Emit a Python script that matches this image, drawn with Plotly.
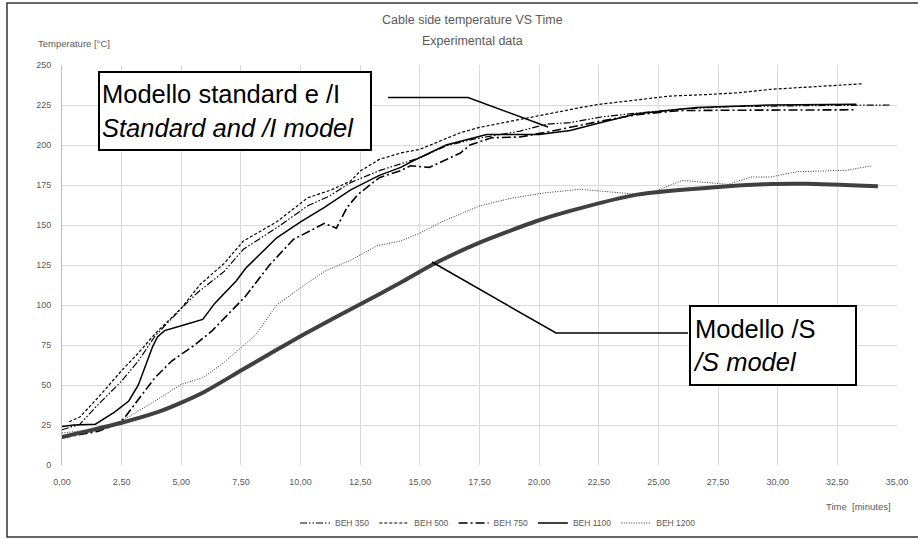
import plotly.graph_objects as go

# ---------------- data ----------------
t_350 = [0.0, 0.75, 1.4, 2.5, 3.2, 3.9, 5.1, 5.7, 6.8, 7.6, 9.0, 10.3, 11.2, 12.1, 13.3, 14.2, 15.0, 16.1, 17.2, 19.2,
         20.3, 21.3, 22.6, 24.1, 26.0, 28.0, 30.0, 32.0, 34.7]
T_350 = [22, 25.5, 36, 52.5, 65, 80.6, 99.4, 108, 121, 134.8, 148.3, 162, 168, 176.5, 184, 188, 192, 199.4, 203.5, 208.7,
         213, 214, 217.5, 220, 222.5, 224, 224.5, 224.7, 225]

t_500 = [0.3, 0.75, 1.5, 2.5, 3.2, 3.9, 5.0, 5.8, 6.8, 7.6, 9.0, 10.3, 11.3, 12.1, 12.5, 13.3, 14.2, 15.0, 16.7, 17.5,
         19.2, 20.5, 21.7, 22.5, 24.0, 25.5, 27.0, 28.4, 29.7, 31.5, 33.6]
T_500 = [27, 30, 42, 59, 70, 82, 98, 113, 126, 140, 152, 167, 172, 177.5, 183.7, 191, 195, 197.3, 207.7, 211,
         216, 220, 223.3, 225.4, 228, 230.6, 231.5, 232.7, 234.8, 236.5, 238.3]

t_750 = [0.0, 0.7, 1.5, 2.2, 2.6, 3.2, 3.9, 4.6, 5.6, 6.3, 7.0, 7.7, 8.7, 9.7, 11.0, 11.5, 11.95, 12.4, 13.3, 14.2,
         14.6, 15.4, 16.7, 17.1, 18.0, 19.2, 20.3, 21.3, 22.6, 24.1, 25.9, 27.5, 29.7, 31.5, 33.2]
T_750 = [17, 19, 21, 25, 29, 41, 54.6, 65, 75.4, 84, 95, 105.6, 125, 141, 151, 148, 161, 169, 179.6, 184,
         187, 186, 195, 200, 204.5, 205, 208, 211, 215, 219, 221.5, 221.7, 221.7, 222, 222]

t_1100 = [0.0, 0.5, 1.4, 2.2, 2.8, 3.2, 3.5, 3.8, 4.0, 4.3, 5.0, 5.9, 6.4, 7.3, 7.7, 8.3, 9.0, 10.0, 11.0, 12.1,
          13.3, 14.2, 14.7, 16.1, 17.8, 20.0, 21.3, 22.6, 24.1, 26.6, 29.7, 33.3]
T_1100 = [24, 25, 25.5, 33, 40, 50, 62, 74, 80, 84, 87, 91, 101, 115, 123, 132, 142, 152, 161, 172,
          181, 186, 190, 200, 206.5, 206.5, 209, 214, 219.5, 223.5, 225, 225.5]

t_1200 = [0.0, 1.4, 2.5, 3.9, 5.0, 5.9, 6.7, 7.5, 8.1, 9.0, 10.0, 11.0, 12.1, 13.2, 14.2, 15.0, 16.0, 17.5, 18.9, 20.3,
          21.7, 22.5, 24.1, 24.9, 26.0, 27.9, 28.9, 29.7, 30.8, 32.9, 33.9]
T_1200 = [20, 22.3, 27.5, 40, 50.4, 54.6, 63, 73.3, 81, 100, 110.8, 121, 128, 137, 140, 145, 152.5, 161.9, 167, 170.2,
          172.3, 171.3, 169.2, 171.3, 177.9, 175.4, 180, 180, 183.3, 184.2, 186.9]

t_model_S = [0.0, 1.0, 2.5, 4.0, 5.0, 6.0, 7.5, 9.0, 10.3, 12.5, 14.2, 15.5, 17.5, 19.9, 21.3, 24.1, 27.5, 29.7, 31.2, 34.2]
T_model_S = [17.5, 21, 26.4, 33, 39, 46, 59, 72, 83, 100.5, 114, 125, 139, 152.5, 158.8, 169, 173.8, 175.6, 175.8, 174.2]

x_ticks = [0, 2.5, 5, 7.5, 10, 12.5, 15, 17.5, 20, 22.5, 25, 27.5, 30, 32.5, 35]
x_ticktext = ["0,00", "2,50", "5,00", "7,50", "10,00", "12,50", "15,00", "17,50", "20,00",
              "22,50", "25,00", "27,50", "30,00", "32,50", "35,00"]
y_ticks = [0, 25, 50, 75, 100, 125, 150, 175, 200, 225, 250]

# ---------------- layout geometry ----------------
W, H = 918, 539
ML, MR, MT, MB = 62, 21, 65, 74
PW, PH = W - ML - MR, H - MT - MB


def px(x):
    return (x - ML) / PW


def py(y):
    return (H - MB - y) / PH


FONT = "Liberation Sans Narrow, Arial Narrow, Liberation Sans, Arial, sans-serif"
GRAY = "#595959"

fig = go.Figure()

fig.add_trace(go.Scatter(x=t_350, y=T_350, name="BEH 350", mode="lines",
                         line=dict(color="black", width=1.2, dash="7px,2px,1.5px,2px,1.5px,2px")))
fig.add_trace(go.Scatter(x=t_500, y=T_500, name="BEH 500", mode="lines",
                         line=dict(color="black", width=1.2, dash="3px,2px")))
fig.add_trace(go.Scatter(x=t_750, y=T_750, name="BEH 750", mode="lines",
                         line=dict(color="black", width=1.6, dash="9px,3px,2px,3px")))
fig.add_trace(go.Scatter(x=t_1100, y=T_1100, name="BEH 1100", mode="lines",
                         line=dict(color="black", width=1.5)))
fig.add_trace(go.Scatter(x=t_1200, y=T_1200, name="BEH 1200", mode="lines",
                         line=dict(color="#333333", width=1, dash="1px,1.5px")))
fig.add_trace(go.Scatter(x=t_model_S, y=T_model_S, name="Modello /S", mode="lines", showlegend=False,
                         line=dict(color="#404040", width=4, shape="spline", smoothing=0.6)))

fig.update_layout(
    width=W, height=H,
    margin=dict(l=ML, r=MR, t=MT, b=MB, autoexpand=False),
    paper_bgcolor="white", plot_bgcolor="white",
    font=dict(family=FONT, size=9, color=GRAY),
    showlegend=True,
    legend=dict(orientation="h", x=px(498), xanchor="center", y=py(523), yanchor="middle",
                font=dict(size=8.5, color=GRAY), itemwidth=30, bgcolor="rgba(0,0,0,0)"),
    xaxis=dict(range=[0, 35], tickvals=x_ticks, ticktext=x_ticktext, showgrid=True,
               gridcolor="#d9d9d9", gridwidth=1, zeroline=False, showline=False,
               ticks="", ticklabelstandoff=10, tickfont=dict(size=9, color=GRAY)),
    yaxis=dict(range=[0, 250], tickvals=y_ticks, showgrid=True, gridcolor="#d9d9d9", gridwidth=1,
               zeroline=False, showline=True, linecolor="#bfbfbf", linewidth=1,
               ticks="", ticklabelstandoff=8, tickfont=dict(size=9, color=GRAY)),
)

annos = [
    dict(text="Cable side temperature VS Time", x=px(472), y=py(20), font=dict(size=12.5, color=GRAY)),
    dict(text="Experimental data", x=px(472), y=py(41), font=dict(size=12.5, color=GRAY)),
    dict(text="Temperature [°C]", x=px(36), y=py(43), xanchor="left", font=dict(size=9.5, color=GRAY)),
    dict(text="Time  [minutes]", x=px(893), y=py(506), xanchor="right", font=dict(size=9.5, color=GRAY)),
    dict(text="Modello standard e /I<br><i>Standard and /I model</i>", x=px(235), y=py(111),
         xanchor="center", yanchor="middle", align="left", width=266, height=72,
         bordercolor="black", borderwidth=2, borderpad=2, bgcolor="white",
         font=dict(family="Liberation Sans, Arial, sans-serif", size=25.5, color="black")),
    dict(text="Modello /S<br><i>/S model</i>", x=px(773), y=py(345.5),
         xanchor="center", yanchor="middle", align="left", width=160, height=73,
         bordercolor="black", borderwidth=2, borderpad=2, bgcolor="white",
         font=dict(family="Liberation Sans, Arial, sans-serif", size=25.5, color="black")),
]
for a in annos:
    a.setdefault("xanchor", "center")
    a.setdefault("yanchor", "middle")
    fig.add_annotation(xref="paper", yref="paper", showarrow=False, **a)

# pointer lines for the model boxes
p1 = [(388, 97.5), (468, 97.5), (548, 127)]
p2 = [(688, 333), (556, 333), (432, 262)]
for pts in (p1, p2):
    path = "M " + " L ".join(f"{px(x):.5f},{py(y):.5f}" for x, y in pts)
    fig.add_shape(type="path", path=path, xref="paper", yref="paper",
                  line=dict(color="black", width=1.5))

# chart area border (top, left, bottom edges)
border = [(918, 3), (7, 3), (7, 537), (918, 537)]
fig.add_shape(type="path", xref="paper", yref="paper",
              path="M " + " L ".join(f"{px(x):.5f},{py(y):.5f}" for x, y in border),
              line=dict(color="#333333", width=1.5), layer="below")

fig.write_html("out.html")
